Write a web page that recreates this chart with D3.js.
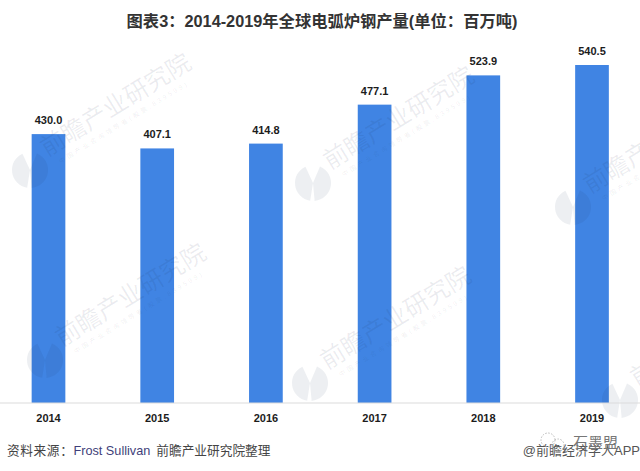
<!DOCTYPE html>
<html>
<head>
<meta charset="utf-8">
<script src="https://cdn.jsdelivr.net/npm/d3@7"></script>
<style>
  html, body { margin: 0; padding: 0; background: #fff; }
  svg { display: block; }
  text { font-family: "Liberation Sans", "Noto Sans CJK SC", sans-serif; }
</style>
</head>
<body>
<svg id="chart" width="640" height="471"></svg>
<script>
const years = ["2014", "2015", "2016", "2017", "2018", "2019"];
const output = [430.0, 407.1, 414.8, 477.1, 523.9, 540.5];
const titleText = "图表3：2014-2019年全球电弧炉钢产量(单位：百万吨)";
const sourceText = "资料来源：";
const sourceName = "Frost Sullivan";
const sourceTail = "前瞻产业研究院整理";

// start of each repeated watermark (lower left of its first character)
const marks = [[47, 157], [330, 170], [590, 194], [62, 347], [327, 370], [637, 387]];
// the logo is a disc split by a gap, angles in radians
const logoParts = [[0.4, 3.05], [3.3, 5.85]];

const svg = d3.select("#chart");
const width = 640, baseline = 403;

const x = d3.scaleBand().domain(years).range([-5.85, 646.35]).paddingInner(0.69).paddingOuter(0.345);
const y = d3.scaleLinear().domain([0, 540.5]).range([baseline, 65]);

svg.append("g").selectAll("rect").data(years).join("rect")
    .attr("x", d => x(d))
    .attr("width", x.bandwidth())
    .attr("y", (d, i) => y(output[i]))
    .attr("height", (d, i) => baseline - y(output[i]))
    .attr("fill", "#4084e3");

// watermarks lie over the bars, so a dark low alpha tints both white and blue
const wmColor = "#1f2f55";
const wm = svg.append("g").selectAll("g").data(marks).join("g")
    .attr("transform", d => `translate(${d[0]},${d[1]})`);
const logoArc = d3.arc().innerRadius(0).outerRadius(18);
wm.append("g").attr("transform", "translate(-17,13)")
    .selectAll("path").data(logoParts).join("path")
    .attr("d", d => logoArc({startAngle: d[0], endAngle: d[1]}))
    .attr("fill", wmColor).attr("fill-opacity", 0.08);
const wmText = wm.append("g").attr("transform", "rotate(-31.6)");
wmText.append("text")
    .attr("font-family", '"Noto Sans CJK SC", sans-serif')
    .attr("font-size", 24.5).attr("fill", wmColor).attr("fill-opacity", 0.09)
    .text("前瞻产业研究院");
wmText.append("text")
    .attr("x", 8).attr("y", 13)
    .attr("font-family", '"Noto Sans CJK SC", sans-serif')
    .attr("font-size", 6.5).attr("letter-spacing", 2.6).attr("fill", wmColor).attr("fill-opacity", 0.09)
    .text("中国产业咨询领导者(股票:839599)");

svg.append("g").selectAll("text").data(years).join("text")
    .attr("x", d => x(d) + x.bandwidth() / 2)
    .attr("y", (d, i) => y(output[i]) - 10)
    .attr("text-anchor", "middle")
    .attr("font-size", 11).attr("font-weight", 700).attr("fill", "#1c1c1c")
    .text((d, i) => output[i].toFixed(1));

const axis = svg.append("g")
    .attr("transform", `translate(0,${baseline})`)
    .call(d3.axisBottom(x).tickSize(0).tickPadding(11));
axis.select(".domain").remove();
axis.append("line").attr("x1", 0).attr("x2", width).attr("stroke", "#dcdcdc").attr("stroke-width", 1.2);
axis.selectAll(".tick text")
    .attr("font-family", '"Liberation Sans", sans-serif')
    .attr("font-size", 11).attr("font-weight", 700).attr("fill", "#1c1c1c");

svg.append("text")
    .attr("x", 322).attr("y", 27)
    .attr("text-anchor", "middle")
    .attr("font-size", 16.3).attr("font-weight", 700).attr("fill", "#333")
    .text(titleText);

const source = svg.append("text").attr("x", 7).attr("y", 455).attr("font-size", 12.7).attr("fill", "#444")
    .attr("font-family", '"Noto Sans CJK SC", sans-serif');
source.append("tspan").attr("letter-spacing", 0.6).text(sourceText);
source.append("tspan").attr("fill", "#3f3f7a").attr("font-family", '"Liberation Sans"').text(sourceName);
source.append("tspan").attr("dx", 6).text(sourceTail);

// repost credits over the lower right corner
svg.append("text")
    .attr("x", 640).attr("y", 455).attr("text-anchor", "end")
    .attr("font-size", 13).attr("fill", "#555")
    .text("@前瞻经济学人APP");
svg.append("text")
    .attr("x", 573).attr("y", 448)
    .attr("font-family", '"Noto Sans CJK SC", sans-serif')
    .attr("font-size", 15).attr("fill", "#777")
    .text("石墨盟");
const wechat = svg.append("g").attr("fill", "none").attr("stroke", "#bbb").attr("stroke-dasharray", "1.5 1.5");
wechat.append("circle").attr("cx", 548).attr("cy", 440).attr("r", 7);
wechat.append("circle").attr("cx", 558).attr("cy", 445).attr("r", 6);
</script>
</body>
</html>
